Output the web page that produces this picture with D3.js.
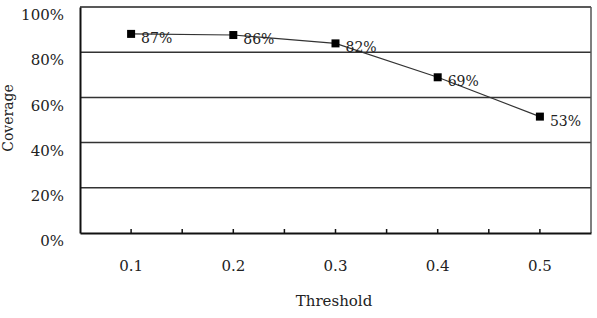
<!DOCTYPE html>
<html><head><meta charset="utf-8">
<script src="https://cdn.jsdelivr.net/npm/d3@7"></script>
<style>body{margin:0;background:#fff}svg{display:block}text{font-family:"DejaVu Serif",serif;fill:#222}</style>
</head><body><svg id="c" width="597" height="318"></svg>
<script>
const categories = ["0.1","0.2","0.3","0.4","0.5"];
const coverage = [0.881, 0.876, 0.839, 0.689, 0.515];
const pointLabels = ["87%","86%","82%","69%","53%"];
const yTicks = [0, 0.2, 0.4, 0.6, 0.8, 1.0];

const svg = d3.select("#c");
const L = 80, R = 591, T = 7, B = 233;
const x = d3.scaleBand().domain(categories).range([L, R]);
const y = d3.scaleLinear().domain([0, 1]).range([B, T]);

// gridlines
svg.append("g").selectAll("line").data(yTicks.filter(d => d > 0 && d < 1)).join("line")
  .attr("x1", L).attr("x2", R).attr("y1", d => y(d)).attr("y2", d => y(d))
  .attr("stroke", "#333").attr("stroke-width", 1.5);
// top and right border
svg.append("line").attr("x1", L).attr("x2", R).attr("y1", y(1)).attr("y2", y(1)).attr("stroke", "#222").attr("stroke-width", 1.5);
svg.append("line").attr("x1", R).attr("x2", R).attr("y1", T).attr("y2", B).attr("stroke", "#555").attr("stroke-width", 1.5);

// y axis
const yAxis = d3.axisLeft(y).tickValues(yTicks).tickFormat(d3.format(".0%")).tickSize(0).tickPadding(16);
const gy = svg.append("g").attr("transform", `translate(${L},0)`).call(yAxis);
gy.select(".domain").attr("stroke", "#111").attr("stroke-width", 2);
gy.selectAll("text").attr("font-size", 15).attr("font-family", "DejaVu Serif").attr("fill", "#222").attr("dy", "0.85em");

// x axis
const xAxis = d3.axisBottom(x).tickSize(0).tickPadding(27);
const gx = svg.append("g").attr("transform", `translate(0,${B})`).call(xAxis);
gx.select(".domain").attr("stroke", "#111").attr("stroke-width", 2);
gx.selectAll("text").attr("font-size", 15).attr("font-family", "DejaVu Serif").attr("fill", "#222");
// tick marks at band centers and boundaries (inside)
const tickPos = [];
categories.forEach(c => { tickPos.push(x(c) + x.bandwidth() / 2); tickPos.push(x(c) + x.bandwidth()); });
svg.append("g").selectAll("line").data(tickPos.filter(p => p < R - 1)).join("line")
  .attr("x1", d => d).attr("x2", d => d).attr("y1", B - 4).attr("y2", B)
  .attr("stroke", "#111").attr("stroke-width", 1.5);

// axis titles
svg.append("text").attr("x", 334).attr("y", 306).attr("text-anchor", "middle").attr("font-size", 15).text("Threshold");
svg.append("text").attr("transform", "translate(13,118) rotate(-90)").attr("text-anchor", "middle").attr("font-size", 14).text("Coverage");

// line
const cx = c => x(c) + x.bandwidth() / 2;
const line = d3.line().x((d, i) => cx(categories[i])).y(d => y(d));
svg.append("path").datum(coverage).attr("d", line).attr("fill", "none").attr("stroke", "#333").attr("stroke-width", 1.2);

// markers
svg.append("g").selectAll("rect").data(coverage).join("rect")
  .attr("x", (d, i) => cx(categories[i]) - 4).attr("y", d => y(d) - 4)
  .attr("width", 8).attr("height", 8).attr("fill", "#000");

// point labels
svg.append("g").selectAll("text").data(coverage).join("text")
  .attr("x", (d, i) => cx(categories[i]) + 10).attr("y", d => y(d) + 9)
  .attr("font-size", 14).attr("fill", "#333").text((d, i) => pointLabels[i]);
</script></body></html>
